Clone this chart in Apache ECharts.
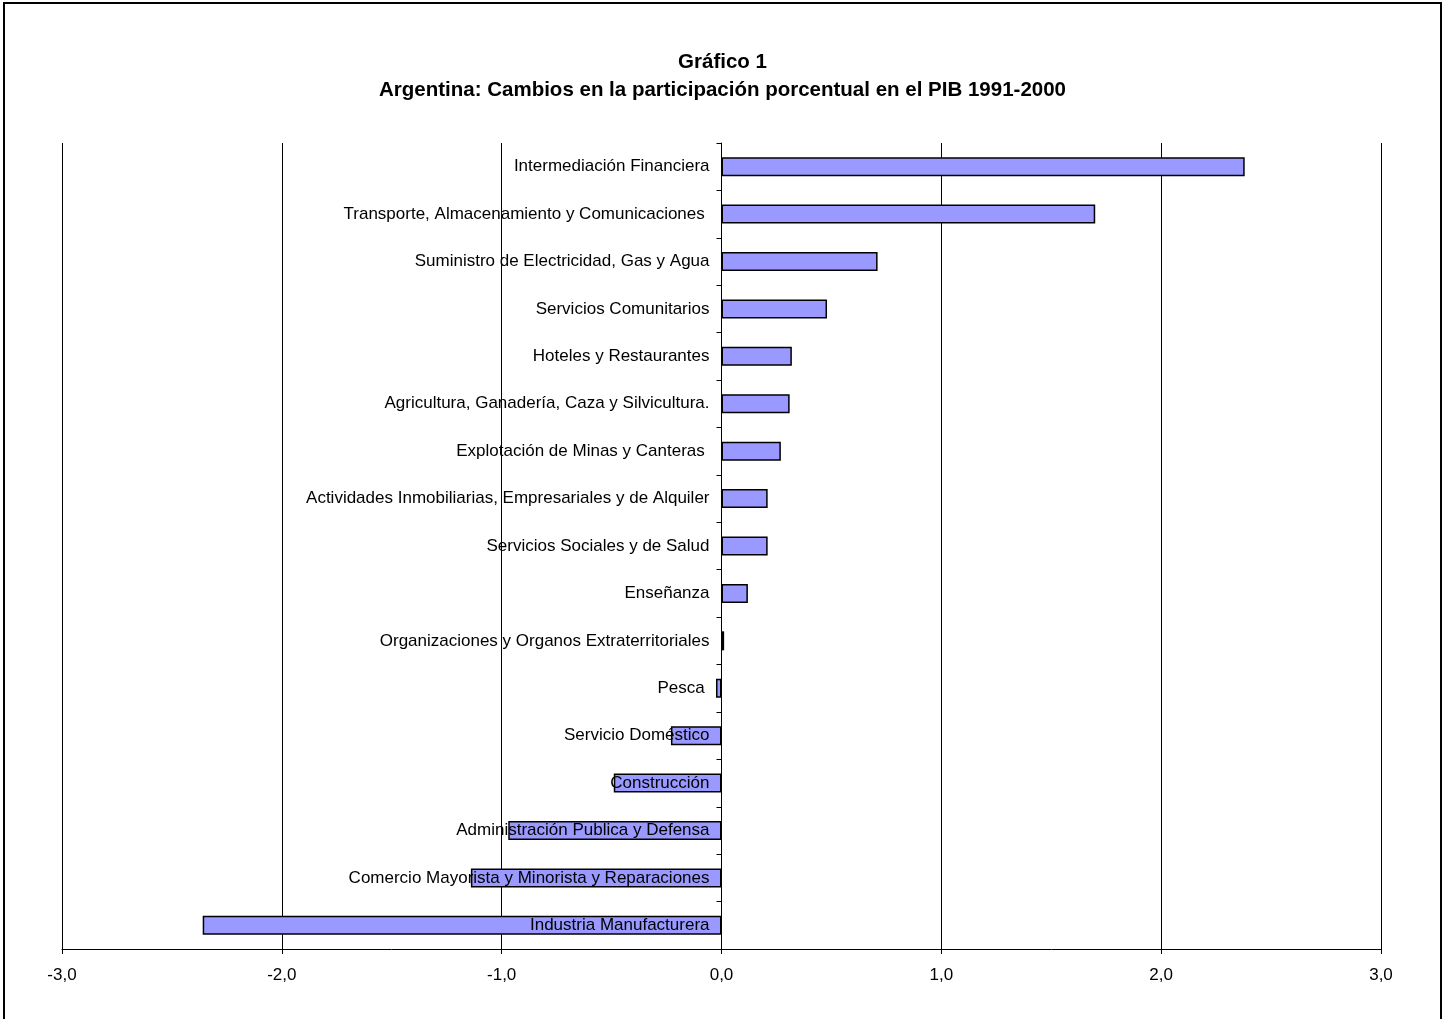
<!DOCTYPE html>
<html>
<head>
<meta charset="utf-8">
<script src="https://cdn.jsdelivr.net/npm/echarts@6/dist/echarts.min.js"></script>
<style>
html,body{margin:0;padding:0;background:#fff;}
#chart{width:1445px;height:1019px;}
</style>
</head>
<body>
<div id="chart"></div>
<script>
const categories = [
  "Intermediación Financiera",
  "Transporte, Almacenamiento y Comunicaciones ",
  "Suministro de Electricidad, Gas y Agua",
  "Servicios Comunitarios",
  "Hoteles y Restaurantes",
  "Agricultura, Ganadería, Caza y Silvicultura.",
  "Explotación de Minas y Canteras ",
  "Actividades Inmobiliarias, Empresariales y de Alquiler",
  "Servicios Sociales y de Salud",
  "Enseñanza",
  "Organizaciones y Organos Extraterritoriales",
  "Pesca ",
  "Servicio Doméstico",
  "Construcción",
  "Administración Publica y Defensa",
  "Comercio Mayorista y Minorista y Reparaciones",
  "Industria Manufacturera"
];
const values = [2.38, 1.70, 0.71, 0.48, 0.32, 0.31, 0.27, 0.21, 0.21, 0.12, 0.012, -0.025, -0.23, -0.49, -0.97, -1.14, -2.36];
const xTicks = { min: -3, max: 3, interval: 1 };
const titleLines = ["Gráfico 1", "Argentina: Cambios en la participación porcentual en el PIB 1991-2000"];

const gridLeft = 62, gridRight = 64;
const plotWidth = 1445 - gridLeft - gridRight;
// horizontal offset of the value-axis zero from the grid's left edge
const zeroOffset = plotWidth * (0 - xTicks.min) / (xTicks.max - xTicks.min);

const chart = echarts.init(document.getElementById('chart'));
chart.setOption({
  backgroundColor: '#ffffff',
  animation: false,
  title: {
    text: titleLines.join('\n'),
    left: 'center',
    top: 43,
    textStyle: { fontFamily: 'Liberation Sans, Arial, sans-serif', fontSize: 20.5, fontWeight: 'bold', color: '#000', lineHeight: 28 }
  },
  graphic: [{
    type: 'rect',
    shape: { x: 4, y: 3, width: 1437, height: 1040 },
    style: { fill: 'none', stroke: '#000', lineWidth: 2 },
    z: -1
  }],
  grid: { left: gridLeft, right: gridRight, top: 143, bottom: 70, containLabel: false, outerBoundsMode: 'none' },
  xAxis: {
    type: 'value',
    min: xTicks.min, max: xTicks.max, interval: xTicks.interval,
    axisLine: { show: true, onZero: false, lineStyle: { color: '#000', width: 1 } },
    axisTick: { show: true, length: 5, lineStyle: { color: '#000' } },
    splitLine: { show: true, lineStyle: { color: '#000', width: 1 } },
    axisLabel: {
      color: '#000', fontSize: 17, margin: 18,
      fontFamily: 'Liberation Sans, Arial, sans-serif',
      formatter: v => v.toFixed(1).replace('.', ',')
    }
  },
  yAxis: {
    type: 'category',
    inverse: true,
    data: categories,
    position: 'left',
    offset: -zeroOffset,
    z: 5,
    axisLine: { show: true, onZero: false, lineStyle: { color: '#000', width: 1 } },
    axisTick: { show: true, length: 5, lineStyle: { color: '#000' } },
    splitLine: { show: false },
    axisLabel: {
      color: '#000', fontSize: 17, margin: 12,
      fontFamily: 'Liberation Sans, Arial, sans-serif'
    }
  },
  series: [{
    type: 'bar',
    data: values,
    barWidth: 19,
    itemStyle: { color: '#9999ff', borderColor: '#000', borderWidth: 1.5 }
  }]
});
</script>
</body>
</html>
